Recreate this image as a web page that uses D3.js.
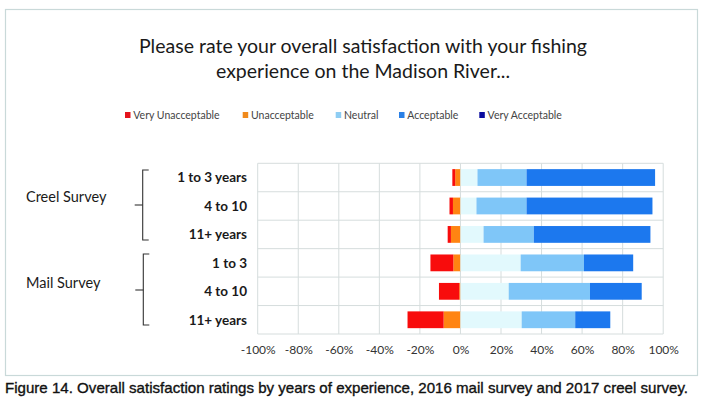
<!DOCTYPE html>
<html>
<head>
<meta charset="utf-8">
<script src="https://cdn.jsdelivr.net/npm/d3@7"></script>
<style>
  html, body { margin: 0; padding: 0; background: #fff; }
  svg { display: block; }
</style>
</head>
<body>
<svg id="chart" width="705" height="400"></svg>
<script>
// ---- DATA ----
const categories = ["1 to 3 years", "4 to 10", "11+ years", "1 to 3", "4 to 10 ", "11+ years "];
const categoryLabels = ["1 to 3 years", "4 to 10", "11+ years", "1 to 3", "4 to 10", "11+ years"];
const groups = ["Creel Survey", "Mail Survey"];
const seriesNames = ["Very Unacceptable", "Unacceptable", "Neutral", "Acceptable", "Very Acceptable"];
const veryUnacceptable = [1.4, 1.7, 1.6, 11.3, 10.0, 17.8];
const unacceptable     = [2.6, 3.7, 4.7, 3.5, 0.6, 8.3];
const neutral          = [8.4, 7.9, 11.4, 29.7, 23.8, 30.2];
const acceptable       = [24.2, 24.7, 24.8, 31.2, 40.1, 26.4];
const veryAcceptable   = [63.4, 62.1, 57.5, 24.3, 25.5, 17.3];
const tickValues = [-100, -80, -60, -40, -20, 0, 20, 40, 60, 80, 100];
const titleLines = ["Please rate your overall satisfaction with your fishing", "experience on the Madison River..."];
const caption = "Figure 14.  Overall satisfaction ratings by years of experience, 2016 mail survey and 2017 creel survey.";

// ---- STYLE ----
const barColors = ["#f80c0c", "#ff8412", "#e2f9fd", "#7fc6f8", "#1c78ee"];
const legendColors = ["#e4141c", "#f08a1c", "#8ecdf3", "#2a80e6", "#0a0c9e"];

const svg = d3.select("#chart");
const font = "Lato, 'Open Sans', sans-serif";

// outer border
svg.append("rect").attr("x", 5.5).attr("y", 9.5).attr("width", 692).attr("height", 366)
  .attr("fill", "#fff").attr("stroke", "#c9d9d9").attr("stroke-width", 1.2);

// title
svg.append("g").selectAll("text").data(titleLines).join("text")
  .attr("x", 363).attr("y", (d, i) => 53 + i * 25)
  .attr("text-anchor", "middle").attr("font-family", font).attr("font-size", 19.5)
  .attr("fill", "#1a1a1a").text(d => d);

// scales
const x = d3.scaleLinear().domain([-100, 100]).range([257.7, 663.2]);
const y = d3.scaleBand().domain(categories).range([163.3, 334]).paddingInner(0).paddingOuter(0);
const barH = y.bandwidth() * 0.59;

// grid
const grid = svg.append("g");
grid.selectAll("line.v").data(tickValues).join("line")
  .attr("x1", d => x(d)).attr("x2", d => x(d)).attr("y1", 163.3).attr("y2", 334)
  .attr("stroke", "#d6dddd").attr("stroke-width", 1);
grid.selectAll("line.h").data(categories.concat(["__end"])).join("line")
  .attr("x1", x(-100)).attr("x2", x(100))
  .attr("y1", (d, i) => i < categories.length ? y(d) : 334)
  .attr("y2", (d, i) => i < categories.length ? y(d) : 334)
  .attr("stroke", "#d6dddd").attr("stroke-width", 1);

// bars
const rows = categories.map((c, i) => ({
  cat: c,
  vals: [veryUnacceptable[i], unacceptable[i], neutral[i], acceptable[i], veryAcceptable[i]]
}));
const segs = [];
rows.forEach(r => {
  let neg = 0;
  [1, 0].forEach(k => { segs.push({cat: r.cat, k, x0: neg - r.vals[k], x1: neg}); neg -= r.vals[k]; });
  let pos = 0;
  [2, 3, 4].forEach(k => { segs.push({cat: r.cat, k, x0: pos, x1: pos + r.vals[k]}); pos += r.vals[k]; });
});
svg.append("g").selectAll("rect").data(segs).join("rect")
  .attr("x", d => x(d.x0)).attr("width", d => x(d.x1) - x(d.x0))
  .attr("y", d => y(d.cat) + (y.bandwidth() - barH) / 2).attr("height", barH)
  .attr("fill", d => barColors[d.k]);

// x axis labels
const axis = d3.axisBottom(x).tickValues(tickValues).tickSize(0).tickPadding(0)
  .tickFormat(d => d + "%");
const ax = svg.append("g").attr("transform", "translate(0,345)").call(axis);
ax.select(".domain").remove();
ax.selectAll("text").attr("font-family", font).attr("font-size", 12).attr("fill", "#333").attr("dy", "0.71em");

// category labels
svg.append("g").selectAll("text").data(categories).join("text")
  .attr("x", 247).attr("y", d => y(d) + y.bandwidth() / 2)
  .attr("dy", "0.35em").attr("text-anchor", "end")
  .attr("font-family", font).attr("font-weight", "bold").attr("font-size", 13.5)
  .attr("fill", "#1a1a1a").text((d, i) => categoryLabels[i]);

// group labels
const groupY = [202, 288];
svg.append("g").selectAll("text").data(groups).join("text")
  .attr("x", 26).attr("y", (d, i) => groupY[i])
  .attr("font-family", font).attr("font-size", 14.5).attr("fill", "#1a1a1a").text(d => d);

// braces
const braceX = [142.7, 143.3];
const braceSpan = [[170, 240], [254, 325]];
const braceMid = [205, 290];
const br = svg.append("g").attr("fill", "none").attr("stroke", "#333").attr("stroke-width", 1.1);
groups.forEach((g, i) => {
  const bx = braceX[i], [t, b] = braceSpan[i], m = braceMid[i];
  br.append("path").attr("d", `M${bx + 6},${t} L${bx},${t} L${bx},${b} L${bx + 6},${b}`);
  br.append("path").attr("d", `M${bx},${m} L${bx - 8},${m}`);
});

// legend
const legendX = [125, 242.7, 335.7, 399, 479.3];
const lg = svg.append("g");
seriesNames.forEach((s, i) => {
  lg.append("rect").attr("x", legendX[i]).attr("y", 112).attr("width", 5.5).attr("height", 6)
    .attr("fill", legendColors[i]);
  lg.append("text").attr("x", legendX[i] + 8.3).attr("y", 118.5)
    .attr("font-family", font).attr("font-size", 10.5).attr("fill", "#444").text(s);
});

// caption
svg.append("text").attr("x", 5).attr("y", 392.5)
  .attr("font-family", "'Liberation Sans', Arial, sans-serif").attr("font-size", 15)
  .attr("fill", "#111").attr("stroke", "#111").attr("stroke-width", 0.35)
  .attr("textLength", 683).attr("lengthAdjust", "spacingAndGlyphs")
  .text(caption);
</script>
</body>
</html>
